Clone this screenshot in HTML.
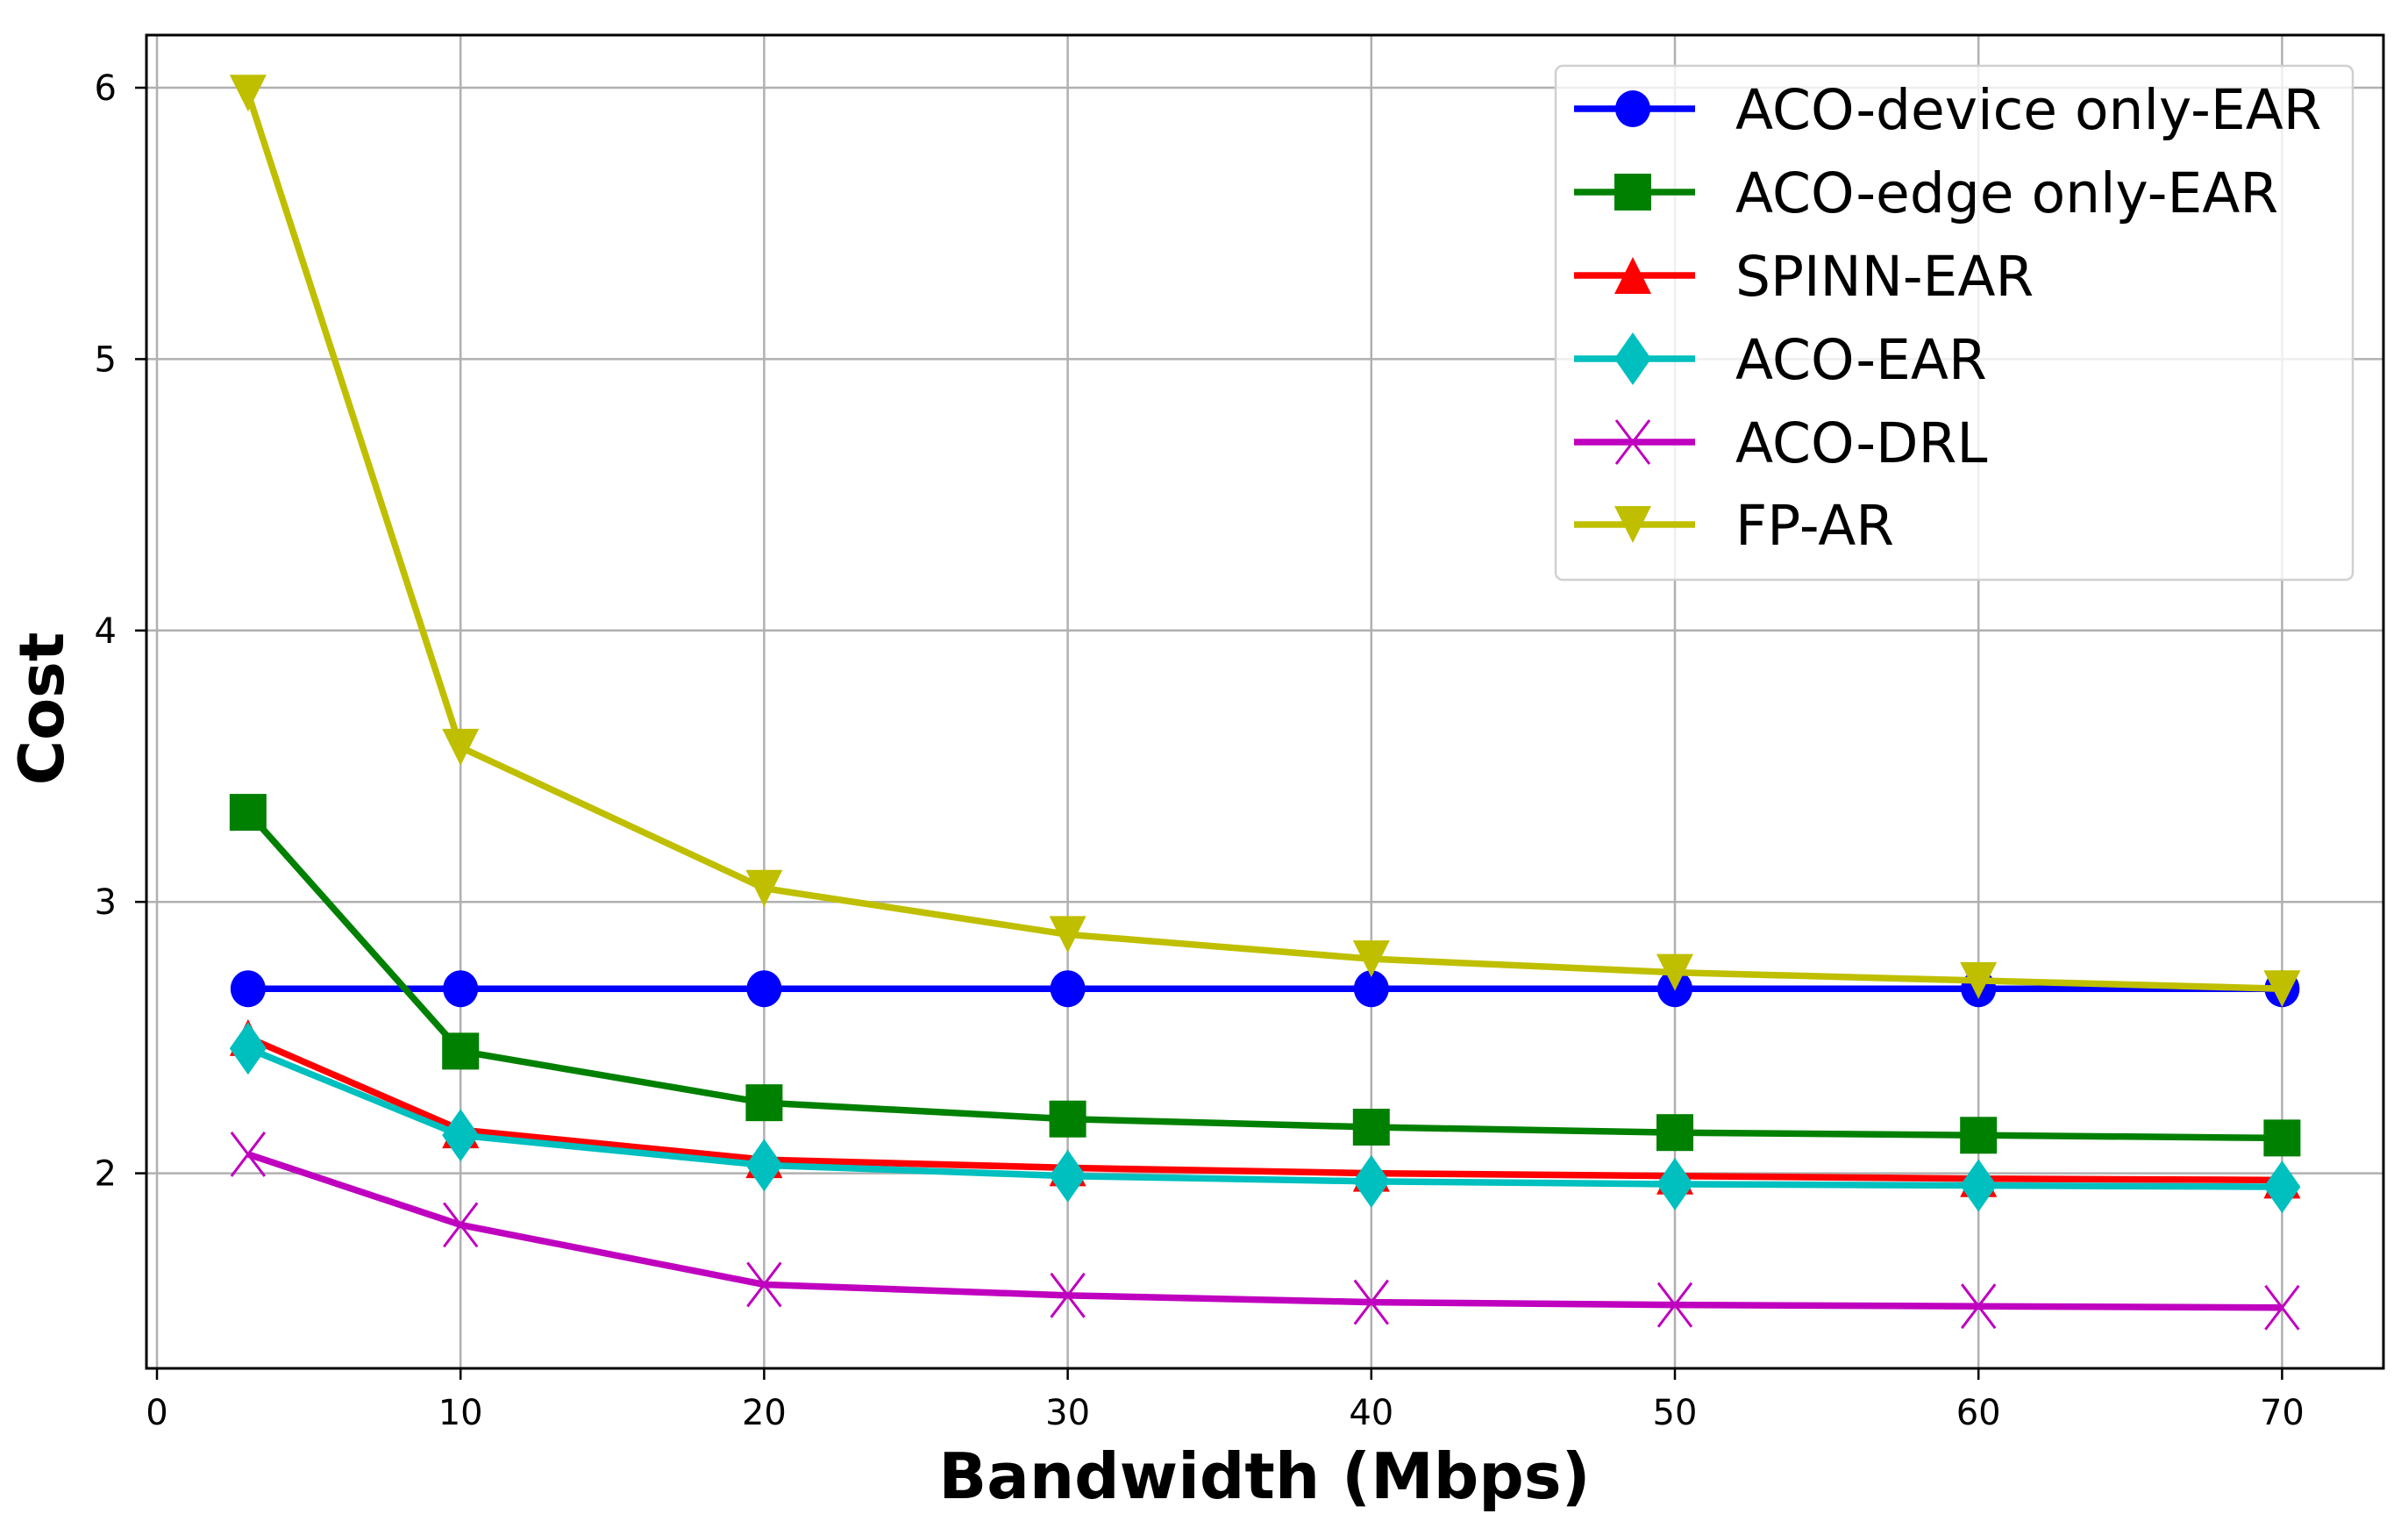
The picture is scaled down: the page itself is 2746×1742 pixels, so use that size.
<!DOCTYPE html>
<html><head><meta charset="utf-8"><style>
html,body{margin:0;padding:0;background:#fff;}
svg{display:block;font-family:"DejaVu Sans","Liberation Sans",sans-serif;}
</style></head><body>
<svg id="chart" width="2746" height="1742" viewBox="0 0 2746 1742" xmlns="http://www.w3.org/2000/svg">
<rect width="2746" height="1742" fill="#fff"/>
<g id="grid"></g>
<g id="series"></g>
<rect x="167" y="40" width="2551" height="1520" fill="none" stroke="#000" stroke-width="3"/>
<g id="ticks"></g>
<text x="1442" y="1708" font-size="72" font-weight="bold" text-anchor="middle">Bandwidth (Mbps)</text>
<text x="0" y="0" transform="translate(72,808) rotate(-90)" font-size="70" font-weight="bold" text-anchor="middle">Cost</text>
<g id="legend"></g>
</svg>
<script>
const xValues = [3, 10, 20, 30, 40, 50, 60, 70];
const deviceOnly = [2.68, 2.68, 2.68, 2.68, 2.68, 2.68, 2.68, 2.68];
const edgeOnly = [3.33, 2.45, 2.26, 2.20, 2.17, 2.15, 2.14, 2.13];
const spinn = [2.50, 2.16, 2.05, 2.02, 2.00, 1.99, 1.98, 1.975];
const acoEar = [2.46, 2.14, 2.03, 1.99, 1.97, 1.96, 1.955, 1.95];
const acoDrl = [2.07, 1.81, 1.59, 1.55, 1.525, 1.515, 1.51, 1.505];
const fpAr = [5.98, 3.57, 3.05, 2.88, 2.79, 2.74, 2.71, 2.68];
const xTicks = [0, 10, 20, 30, 40, 50, 60, 70];
const yTicks = [2, 3, 4, 5, 6];
const seriesNames = ["ACO-device only-EAR","ACO-edge only-EAR","SPINN-EAR","ACO-EAR","ACO-DRL","FP-AR"];

const NS = "http://www.w3.org/2000/svg";
function xs(v){ return 179 + 34.62 * v; }
function ys(v){ return 100 + (6 - v) * 309.4; }
function mk(tag, attrs, parent){
  const e = document.createElementNS(NS, tag);
  for (const k in attrs) e.setAttribute(k, attrs[k]);
  parent.appendChild(e); return e;
}
const grid = document.getElementById('grid');
const ticks = document.getElementById('ticks');
xTicks.forEach(t => {
  const l = mk('line', {x1: xs(t), x2: xs(t), y1: 40, y2: 1560, stroke: '#b0b0b0', 'stroke-width': 2.5}, grid);
  
  
  const tk = mk('line', {x1: xs(t), x2: xs(t), y1: 1560, y2: 1573, stroke: '#000', 'stroke-width': 2.5}, ticks);
  
  
  const tx = mk('text', {x: xs(t), y: 1624, 'font-size': 40, 'text-anchor': 'middle'}, ticks);
  tx.textContent = t;
  
  
});
yTicks.forEach(t => {
  const l = mk('line', {x1: 167, x2: 2718, y1: ys(t), y2: ys(t), stroke: '#b0b0b0', 'stroke-width': 2.5}, grid);
  
  
  const tk = mk('line', {x1: 154, x2: 167, y1: ys(t), y2: ys(t), stroke: '#000', 'stroke-width': 2.5}, ticks);
  
  
  const tx = mk('text', {x: 133, y: ys(t) + 14, 'font-size': 40, 'text-anchor': 'end'}, ticks);
  tx.textContent = t;
  
  
});

function marker(type, cx, cy, color, parent){
  const r = 21;
  let e;
  if (type === 'circle') e = mk('ellipse', {cx: cx, cy: cy, rx: 20, ry: 21, fill: color}, parent);
  else if (type === 'square') e = mk('rect', {x: cx - r, y: cy - r, width: 2*r, height: 2*r, fill: color}, parent);
  else if (type === 'tri') e = mk('polygon', {points: `${cx},${cy-r} ${cx+r},${cy+r} ${cx-r},${cy+r}`, fill: color}, parent);
  else if (type === 'diamond') e = mk('polygon', {points: `${cx},${cy-30} ${cx+21},${cy} ${cx},${cy+30} ${cx-21},${cy}`, fill: color}, parent);
  else if (type === 'tridown') e = mk('polygon', {points: `${cx-r},${cy-r} ${cx+r},${cy-r} ${cx},${cy+r}`, fill: color}, parent);
  else if (type === 'x') e = mk('path', {d: `M${cx-19},${cy-25}L${cx+19},${cy+25}M${cx+19},${cy-25}L${cx-19},${cy+25}`, stroke: color, 'stroke-width': 3, fill: 'none'}, parent);
  return e;
}

const seriesData = [deviceOnly, edgeOnly, spinn, acoEar, acoDrl, fpAr];
const colors = ['#0000ff', '#008000', '#ff0000', '#00bfbf', '#bf00bf', '#bfbf00'];
const markers = ['circle', 'square', 'tri', 'diamond', 'x', 'tridown'];
const slugs = ['aco-device-only-ear', 'aco-edge-only-ear', 'spinn-ear', 'aco-ear', 'aco-drl', 'fp-ar'];
const sg = document.getElementById('series');
seriesData.forEach((vals, i) => {
  const g = mk('g', {}, sg);
  
  
  const pts = vals.map((v, j) => xs(xValues[j]) + ',' + ys(v)).join(' ');
  const pl = mk('polyline', {points: pts, fill: 'none', stroke: colors[i], 'stroke-width': 7.5, 'stroke-linejoin': 'round'}, g);
  
  
  vals.forEach((v, j) => {
    const m = marker(markers[i], xs(xValues[j]), ys(v), colors[i], g);
    
    
  });
});

const lg = document.getElementById('legend');
const box = mk('rect', {x: 1774, y: 75, width: 909, height: 586, rx: 8, fill: '#fff', 'fill-opacity': 0.8, stroke: '#d0d0d0', 'stroke-width': 2.5}, lg);


const rowY = [124, 219, 314, 409, 504, 598];
seriesNames.forEach((n, i) => {
  const g = mk('g', {}, lg);
  
  
  mk('line', {x1: 1795, x2: 1933, y1: rowY[i], y2: rowY[i], stroke: colors[i], 'stroke-width': 7.5}, g);
  marker(markers[i], 1862, rowY[i], colors[i], g);
  const t = mk('text', {x: 1979, y: rowY[i] + 23, 'font-size': 63}, g);
  t.textContent = n;
  
  
});
</script>
</body></html>
